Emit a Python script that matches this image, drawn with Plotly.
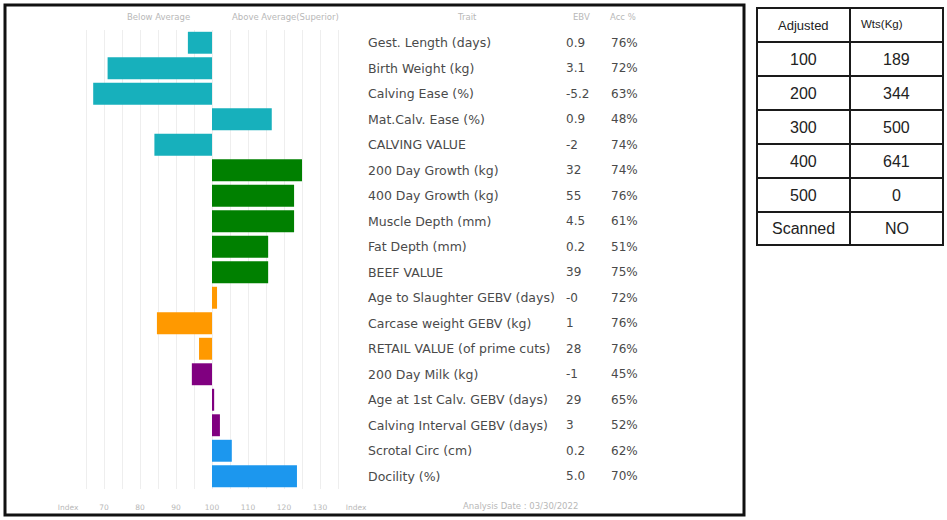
import plotly.graph_objects as go

# ---------------- data ----------------
traits = ["Gest. Length (days)", "Birth Weight (kg)", "Calving Ease (%)", "Mat.Calv. Ease (%)",
          "CALVING VALUE", "200 Day Growth (kg)", "400 Day Growth (kg)", "Muscle Depth (mm)",
          "Fat Depth (mm)", "BEEF VALUE", "Age to Slaughter GEBV (days)", "Carcase weight GEBV (kg)",
          "RETAIL VALUE (of prime cuts)", "200 Day Milk (kg)", "Age at 1st Calv. GEBV (days)",
          "Calving Interval GEBV (days)", "Scrotal Circ (cm)", "Docility (%)"]
index_values = [93.3, 71.0, 67.0, 116.6, 84.0, 125.0, 122.8, 122.8, 115.6, 115.6,
                101.4, 84.7, 96.4, 94.4, 100.6, 102.2, 105.5, 123.6]
ebv = ["0.9", "3.1", "-5.2", "0.9", "-2", "32", "55", "4.5", "0.2", "39",
       "-0", "1", "28", "-1", "29", "3", "0.2", "5.0"]
acc = ["76%", "72%", "63%", "48%", "74%", "74%", "76%", "61%", "51%", "75%",
       "72%", "76%", "76%", "45%", "65%", "52%", "62%", "70%"]
groups = ["calving"] * 5 + ["growth"] * 5 + ["carcase"] * 3 + ["maternal"] * 3 + ["other"] * 2
group_colors = {"calving": "#17B0BC", "growth": "#008000", "carcase": "#FF9900",
                "maternal": "#800080", "other": "#1C97EE"}
tick_vals = [60, 70, 80, 90, 100, 110, 120, 130, 140]
tick_text = ["Index", "70", "80", "90", "100", "110", "120", "130", "Index"]
table_header = ["Adjusted", "Wts(Kg)"]
table_col1 = ["100", "200", "300", "400", "500", "Scanned"]
table_col2 = ["189", "344", "500", "641", "0", "NO"]
analysis_date = "Analysis Date : 03/30/2022"

# ---------------- layout helpers ----------------
W, H = 947, 520
def px(x):
    return x / W
def py(y):
    return 1 - y / H

FONT = "DejaVu Sans"
BASE = 100

fig = go.Figure()
fig.add_trace(go.Bar(
    y=list(range(len(traits))),
    x=[v - BASE for v in index_values],
    base=BASE,
    orientation="h",
    marker=dict(color=[group_colors[g] for g in groups], line=dict(width=0)),
    width=0.86,
    hoverinfo="skip",
    showlegend=False,
))

annotations = []
trait_font = dict(family=FONT, size=12.5, color="#4a4a4a")
num_font = dict(family=FONT, size=12, color="#4a4a4a")
for i, t in enumerate(traits):
    for x, s, f in [(366, t, trait_font), (564, ebv[i], num_font), (609, acc[i], num_font)]:
        annotations.append(dict(x=px(x), xref="paper", y=i, yref="y", text=s, showarrow=False,
                                xanchor="left", yanchor="middle", font=f))

hdr_font = dict(family=FONT, size=8.5, color="#b8b8b8")
for txt, x in [("Below Average", 158), ("Above Average(Superior)", 285),
               ("Trait", 467), ("EBV", 581), ("Acc %", 623)]:
    annotations.append(dict(x=px(x), xref="paper", y=py(17), yref="paper", text=txt,
                            showarrow=False, xanchor="center", yanchor="middle", font=hdr_font))
annotations.append(dict(x=px(520), xref="paper", y=py(506), yref="paper", text=analysis_date,
                        showarrow=False, xanchor="center", yanchor="middle", font=hdr_font))

# ---------------- right table ----------------
shapes = []
tx0, tx1, tmid = 757, 943, 850
row_y = [8, 42, 76, 110, 144, 178, 212, 245]
line_style = dict(color="#1a1a1a", width=2)
shapes.append(dict(type="rect", xref="paper", yref="paper", x0=px(tx0), x1=px(tx1),
                   y0=py(row_y[-1]), y1=py(row_y[0]), line=line_style))
shapes.append(dict(type="line", xref="paper", yref="paper", x0=px(tmid), x1=px(tmid),
                   y0=py(row_y[-1]), y1=py(row_y[0]), line=line_style))
for yy in row_y[1:-1]:
    shapes.append(dict(type="line", xref="paper", yref="paper", x0=px(tx0), x1=px(tx1),
                       y0=py(yy), y1=py(yy), line=line_style))
c1, c2 = (tx0 + tmid) / 2, (tmid + tx1) / 2
hy = (row_y[0] + row_y[1]) / 2
TF = "Liberation Sans"
annotations.append(dict(x=px(c1), xref="paper", y=py(hy), yref="paper", text=table_header[0],
                        showarrow=False, xanchor="center", yanchor="middle",
                        font=dict(family=TF, size=13, color="#222")))
annotations.append(dict(x=px(882), xref="paper", y=py(hy - 1), yref="paper", text=table_header[1],
                        showarrow=False, xanchor="center", yanchor="middle",
                        font=dict(family=TF, size=11.5, color="#222")))
for k in range(len(table_col1)):
    cy = (row_y[k + 1] + row_y[k + 2]) / 2
    for cx, s in [(c1, table_col1[k]), (c2, table_col2[k])]:
        annotations.append(dict(x=px(cx), xref="paper", y=py(cy), yref="paper", text=s,
                                showarrow=False, xanchor="center", yanchor="middle",
                                font=dict(family=TF, size=16, color="#222")))

# main border
shapes.append(dict(type="rect", xref="paper", yref="paper", x0=px(5), x1=px(744),
                   y0=py(515), y1=py(5), line=dict(color="#111", width=3)))

fig.update_layout(
    width=W, height=H,
    margin=dict(l=0, r=0, t=0, b=0, autoexpand=False),
    paper_bgcolor="white", plot_bgcolor="white",
    xaxis=dict(domain=[px(68), px(356)], range=[60, 140], tickvals=tick_vals, ticktext=tick_text,
               showgrid=True, gridcolor="#eeeeee", gridwidth=1,
               minor=dict(dtick=5, tick0=60, showgrid=True, gridcolor="#eeeeee", gridwidth=1),
               zeroline=False, showline=False, ticks="", automargin=False,
               tickfont=dict(family=FONT, size=7.5, color="#b8b8b8"), ticklabelstandoff=12,
               fixedrange=True),
    yaxis=dict(domain=[py(489), py(30)], range=[len(traits) - 0.5, -0.5], automargin=False,
               showticklabels=False, showgrid=False, zeroline=False, ticks="", fixedrange=True),
    annotations=annotations,
    shapes=shapes,
)

fig.write_html("out.html", post_script="document.body.style.margin='0';",
               config={"displayModeBar": False})
